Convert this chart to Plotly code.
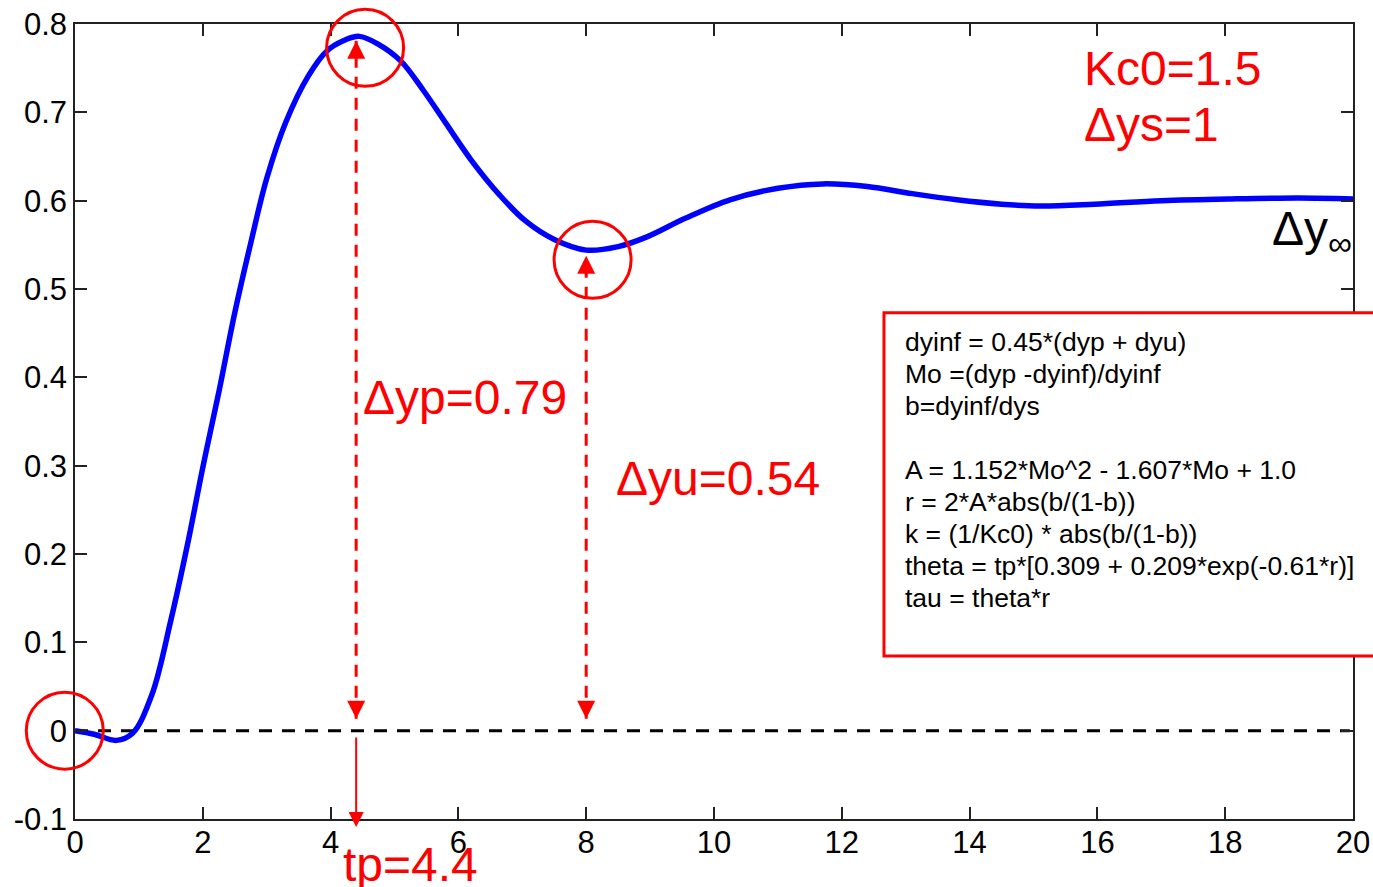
import plotly.graph_objects as go

# Closed-loop step response (time, output)
time = [0, 0.3, 0.65, 0.9, 1.2, 1.5, 1.77, 2.0, 2.25, 2.5, 2.75, 3.0, 3.3, 3.65,
        3.95, 4.2, 4.45, 4.75, 5.1, 5.45, 5.8, 6.2, 6.65, 7.05, 7.5, 8.0, 8.5,
        8.95, 9.55, 10.25, 11.0, 11.7, 12.4, 13.1, 13.8, 14.5, 15.1, 15.95,
        17.0, 18.1, 19.15, 20.0]
response = [0, -0.004, -0.011, -0.003, 0.040, 0.125, 0.214, 0.298, 0.383, 0.473,
            0.552, 0.625, 0.689, 0.741, 0.770, 0.781, 0.786, 0.777, 0.758, 0.725,
            0.688, 0.646, 0.606, 0.577, 0.556, 0.544, 0.548, 0.559, 0.580, 0.601,
            0.614, 0.619, 0.616, 0.608, 0.601, 0.596, 0.594, 0.596, 0.600, 0.602,
            0.603, 0.602]

# Characteristic values
tp = 4.4
dyp = 0.79
t_u = 8.0
dyu = 0.54

# Highlighted points (start, first peak, first trough)
circle_t = [-0.16, 4.54, 8.1]
circle_y = [0.0, 0.773, 0.533]

x_ticks = [0, 2, 4, 6, 8, 10, 12, 14, 16, 18, 20]
y_ticks = [-0.1, 0, 0.1, 0.2, 0.3, 0.4, 0.5, 0.6, 0.7, 0.8]

formula_lines = [
    "dyinf = 0.45*(dyp + dyu)",
    "Mo =(dyp -dyinf)/dyinf",
    "b=dyinf/dys",
    "",
    "A = 1.152*Mo^2 - 1.607*Mo + 1.0",
    "r = 2*A*abs(b/(1-b))",
    "k = (1/Kc0) * abs(b/(1-b))",
    "theta = tp*[0.309 + 0.209*exp(-0.61*r)]",
    "tau = theta*r",
]

W, H = 1373, 887
M = dict(l=75, r=20, t=24, b=68)
XR = [0, 20]
YR = [-0.1, 0.8]
plot_h = H - M["t"] - M["b"]
px_per_y = plot_h / (YR[1] - YR[0])

FONT = "Liberation Sans, Arial, sans-serif"
RED = "#ff0000"


def to_paper_x(t):
    return (t - XR[0]) / (XR[1] - XR[0])


def to_paper_y(v):
    return (v - YR[0]) / (YR[1] - YR[0])


fig = go.Figure()

# zero reference line
fig.add_trace(go.Scatter(
    x=[0, 19.95], y=[0, 0], mode="lines",
    line=dict(color="black", width=3, dash="13px,10px"),
    hoverinfo="skip", showlegend=False))

# dashed measurement lines for peak and trough
for xv, yv in [(tp, dyp), (t_u, dyu)]:
    fig.add_shape(type="line", xref="x", yref="y", layer="below",
                  x0=xv, x1=xv, y0=12 / px_per_y, y1=yv - 8 / px_per_y,
                  line=dict(color=RED, width=3, dash="12px,9px"))

# response curve
fig.add_trace(go.Scatter(
    x=time, y=response, mode="lines",
    line=dict(color="#0000ff", width=5.5, shape="spline", smoothing=1.0),
    hoverinfo="skip", showlegend=False))

# highlight circles (paper-referenced so they are not clipped at the frame)
R_CIRC = 38.5
for ct, cy in zip(circle_t, circle_y):
    fig.add_shape(type="circle", xref="paper", yref="paper", layer="above",
                  xsizemode="pixel", ysizemode="pixel",
                  xanchor=to_paper_x(ct), yanchor=to_paper_y(cy),
                  x0=-R_CIRC, x1=R_CIRC, y0=-R_CIRC, y1=R_CIRC,
                  line=dict(color=RED, width=3))

annotations = []

# arrowheads of the measurement lines
for xv, yv, stand_top in [(tp, dyp, 8), (t_u, dyu, 2)]:
    annotations.append(dict(x=xv, y=yv, xref="x", yref="y", text="",
                            showarrow=True, ax=0, ay=22, arrowhead=2,
                            arrowsize=1.2, arrowwidth=3, arrowcolor=RED,
                            standoff=stand_top))
    annotations.append(dict(x=xv, y=0, xref="x", yref="y", text="",
                            showarrow=True, ax=0, ay=-22, arrowhead=2,
                            arrowsize=1.2, arrowwidth=3, arrowcolor=RED,
                            standoff=12))

# tp arrow down to the time axis
tp_tip = -0.109
tp_tail = -0.006
annotations.append(dict(x=to_paper_x(tp), y=to_paper_y(tp_tip),
                        xref="paper", yref="paper", text="",
                        showarrow=True, ax=0, ay=-(tp_tail - tp_tip) * px_per_y,
                        arrowhead=2, arrowsize=1.5, arrowwidth=2,
                        arrowcolor=RED))

big = dict(family=FONT, size=48, color=RED)
annotations += [
    dict(x=15.76, y=0.750, xref="x", yref="y", text="Kc0=1.5", showarrow=False,
         xanchor="left", yanchor="middle", font=big),
    dict(x=15.76, y=0.686, xref="x", yref="y", text="\u0394ys=1", showarrow=False,
         xanchor="left", yanchor="middle", font=big),
    dict(x=4.47, y=0.377, xref="x", yref="y", text=f"\u0394yp={dyp}",
         showarrow=False, xanchor="left", yanchor="middle", font=big),
    dict(x=8.43, y=0.285, xref="x", yref="y", text=f"\u0394yu={dyu}",
         showarrow=False, xanchor="left", yanchor="middle", font=big),
    dict(x=to_paper_x(4.17), y=to_paper_y(-0.152), xref="paper", yref="paper",
         text=f"tp={tp}", showarrow=False, xanchor="left", yanchor="middle",
         font=big),
    dict(x=18.7, y=0.565, xref="x", yref="y", text="\u0394y<sub>\u221e</sub>",
         showarrow=False, xanchor="left", yanchor="middle",
         font=dict(family=FONT, size=48, color="black")),
]

# formula box
box_x0, box_y0, box_y1 = 12.66, 0.0845, 0.473
fig.add_shape(type="rect", xref="paper", yref="paper", layer="above",
              x0=to_paper_x(box_x0), x1=to_paper_x(20.6),
              y0=to_paper_y(box_y0), y1=to_paper_y(box_y1),
              line=dict(color=RED, width=3), fillcolor="white")

line_gap = 32 / px_per_y
first_line_y = 0.4395
for i, txt in enumerate(formula_lines):
    if not txt:
        continue
    annotations.append(dict(
        x=to_paper_x(12.98), y=to_paper_y(first_line_y - i * line_gap),
        xref="paper", yref="paper", text=txt, showarrow=False, align="left",
        xanchor="left", yanchor="middle", borderpad=0,
        font=dict(family=FONT, size=26.5, color="black")))

axis_common = dict(showgrid=False, zeroline=False, showline=True,
                   linecolor="#222222", linewidth=1.5, mirror="ticks",
                   ticks="inside", ticklen=12, tickwidth=1.5, tickcolor="#222222",
                   automargin=False,
                   tickfont=dict(family=FONT, size=31, color="black"))

fig.update_layout(
    width=W, height=H, margin=M,
    paper_bgcolor="white", plot_bgcolor="white",
    xaxis=dict(range=XR, tickvals=x_ticks,
               ticktext=[str(v) for v in x_ticks], ticklabelstandoff=-5,
               **axis_common),
    yaxis=dict(range=YR, tickvals=y_ticks,
               ticktext=[("0" if v == 0 else f"{v:g}") for v in y_ticks],
               ticklabelstandoff=0, **axis_common),
    annotations=annotations,
    showlegend=False,
)

fig.write_html("out.html")
